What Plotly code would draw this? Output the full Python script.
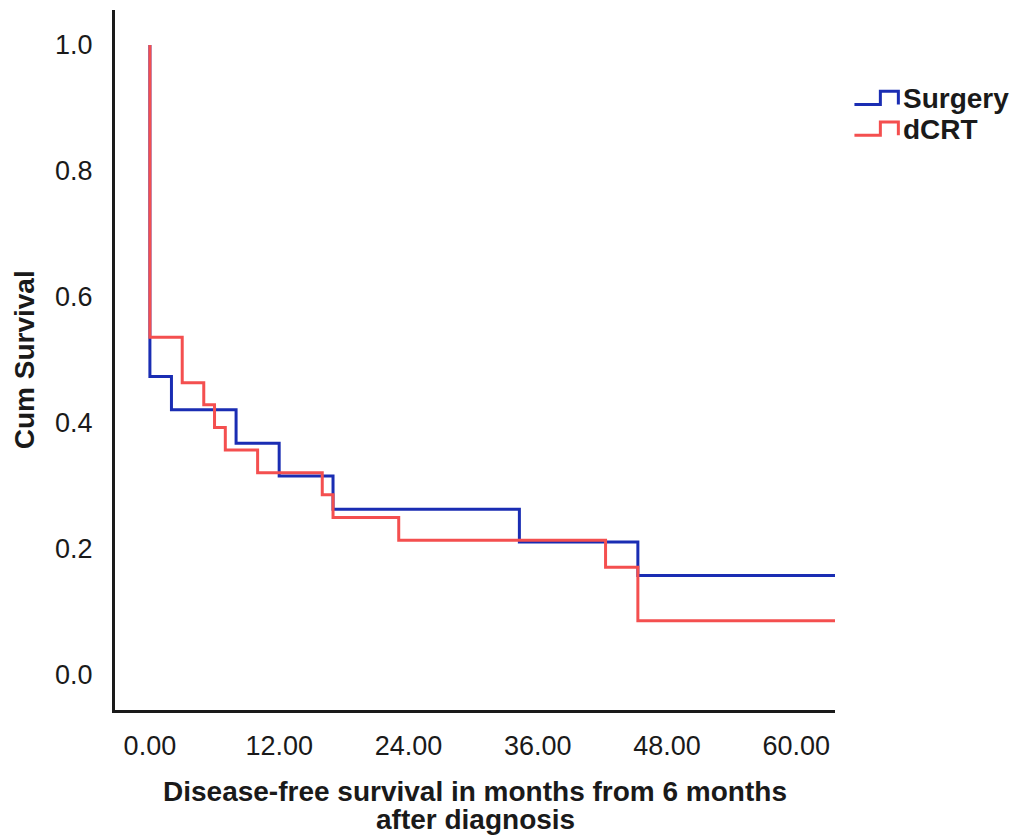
import plotly.graph_objects as go

# Kaplan-Meier step data (months, cumulative survival)
surgery_months = [0, 0, 2.0, 8.0, 12.0, 17.0, 34.3, 45.3, 63.6]
surgery_surv = [1.0, 0.474, 0.421, 0.368, 0.316, 0.263, 0.211, 0.158, 0.158]

dcrt_months = [0, 0, 3.0, 5.0, 6.0, 7.0, 10.0, 16.0, 17.0, 23.1, 42.3, 45.3, 63.6]
dcrt_surv = [1.0, 0.536, 0.464, 0.429, 0.393, 0.357, 0.321, 0.286, 0.250, 0.214, 0.171, 0.086, 0.086]

x_ticks = [0, 12, 24, 36, 48, 60]
x_tick_text = ["0.00", "12.00", "24.00", "36.00", "48.00", "60.00"]
y_ticks = [0.0, 0.2, 0.4, 0.6, 0.8, 1.0]
y_tick_text = ["0.0", "0.2", "0.4", "0.6", "0.8", "1.0"]

series_names = ["Surgery", "dCRT"]
series_colors = ["#1a2db3", "#f44f4f"]

FONT = "Liberation Sans, Arial, sans-serif"

fig = go.Figure()
for name, xs, ys, col in zip(series_names,
                             [surgery_months, dcrt_months],
                             [surgery_surv, dcrt_surv],
                             series_colors):
    fig.add_trace(go.Scatter(x=xs, y=ys, mode="lines", name=name,
                             line=dict(color=col, width=3, shape="hv"),
                             showlegend=False))

axis_common = dict(showgrid=False, zeroline=False, showline=True,
                   linecolor="#1a1a1a", linewidth=3, mirror=False,
                   ticks="inside", ticklen=4, tickwidth=2, tickcolor="white",
                   tickfont=dict(family=FONT, size=27, color="#1a1a1a"))

fig.update_xaxes(range=[-3.24, 63.6], tickvals=x_ticks, ticktext=x_tick_text,
                 ticklabelstandoff=10, **axis_common)
fig.update_yaxes(range=[-0.0556, 1.0556], tickvals=y_ticks, ticktext=y_tick_text,
                 ticklabelstandoff=14, **axis_common)

# axis titles
title_font = dict(family=FONT, size=28, color="#1a1a1a", weight="bold")
fig.add_annotation(text="Cum Survival", textangle=-90, xref="paper", yref="paper",
                   x=-0.126, y=0.5, xanchor="center", yanchor="middle",
                   showarrow=False, font=title_font)
fig.add_annotation(text="Disease-free survival in months from 6 months",
                   xref="paper", yref="paper", x=0.5, y=-0.117,
                   xanchor="center", yanchor="middle", showarrow=False,
                   font=title_font)
fig.add_annotation(text="after diagnosis",
                   xref="paper", yref="paper", x=0.5, y=-0.157,
                   xanchor="center", yanchor="middle", showarrow=False,
                   font=title_font)

# legend: step-shaped key icons with bold labels
legend_rows = [0.874, 0.830]
for name, col, yr in zip(series_names, series_colors, legend_rows):
    x0, x1, x2 = 1.027, 1.063, 1.088
    ylo, yhi = yr - 0.009, yr + 0.01
    fig.add_shape(type="path", xref="paper", yref="paper",
                  path=f"M {x0},{ylo} L {x1},{ylo} L {x1},{yhi} L {x2},{yhi} L {x2},{ylo}",
                  line=dict(color=col, width=3))
    fig.add_annotation(text=name, xref="paper", yref="paper", x=1.091, y=yr,
                       xanchor="left", yanchor="middle", showarrow=False,
                       font=dict(family=FONT, size=28, color="#1a1a1a", weight="bold"))

fig.update_layout(width=1020, height=840,
                  margin=dict(l=115, r=185, t=10, b=130),
                  paper_bgcolor="white", plot_bgcolor="white")

fig.write_html("out.html")
